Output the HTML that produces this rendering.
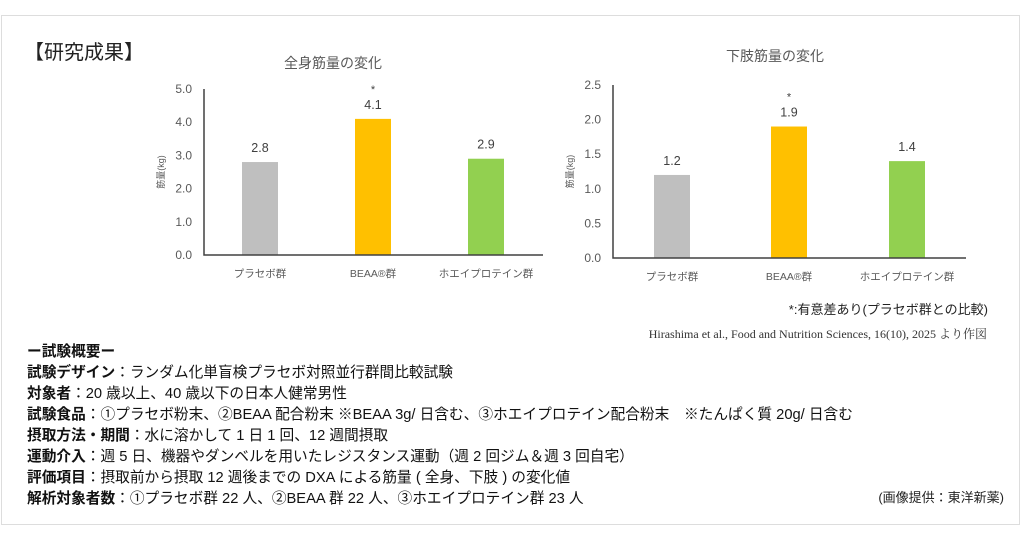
<!DOCTYPE html>
<html><head><meta charset="utf-8"><style>
body{margin:0;width:1024px;height:540px;background:#fff;overflow:hidden;font-family:"Liberation Sans","Noto Sans CJK JP",sans-serif;}
#frame{position:absolute;left:1px;top:15px;width:1019px;height:510px;border:1px solid #ddd;box-sizing:border-box;}
.t{position:absolute;white-space:nowrap;}
.ln{position:absolute;left:27px;font-size:14.7px;color:#111;white-space:nowrap;}
.ln b{font-weight:bold;}
</style></head><body>
<div id="frame"></div>
<div class="t" style="left:24px;top:36px;font-size:20px;color:#222;">【研究成果】</div>
<svg width="1024" height="540" style="position:absolute;left:0;top:0" id="svg"></svg>
<div class="t" style="right:36px;top:299px;font-size:13px;color:#222;">*:有意差あり(プラセボ群との比較)</div>
<div class="t" style="right:37px;top:325px;font-size:12px;color:#333;font-family:'Liberation Serif','Noto Serif CJK SC',serif;">Hirashima et al., Food and Nutrition Sciences, 16(10), 2025 より作図</div>
<div class="ln" style="top:340px;"><b>ー試験概要ー</b></div>
<div class="ln" style="top:361px;"><b>試験デザイン</b>：ランダム化単盲検プラセボ対照並行群間比較試験</div>
<div class="ln" style="top:382px;"><b>対象者</b>：20 歳以上、40 歳以下の日本人健常男性</div>
<div class="ln" style="top:403px;"><b>試験食品</b>：①プラセボ粉末、②BEAA 配合粉末 ※BEAA 3g/ 日含む、③ホエイプロテイン配合粉末　※たんぱく質 20g/ 日含む</div>
<div class="ln" style="top:424px;"><b>摂取方法・期間</b>：水に溶かして 1 日 1 回、12 週間摂取</div>
<div class="ln" style="top:445px;"><b>運動介入</b>：週 5 日、機器やダンベルを用いたレジスタンス運動（週 2 回ジム＆週 3 回自宅）</div>
<div class="ln" style="top:466px;"><b>評価項目</b>：摂取前から摂取 12 週後までの DXA による筋量 ( 全身、下肢 ) の変化値</div>
<div class="ln" style="top:487px;"><b>解析対象者数</b>：①プラセボ群 22 人、②BEAA 群 22 人、③ホエイプロテイン群 23 人</div>
<div class="t" style="right:20px;top:487px;font-size:13px;color:#222;">(画像提供：東洋新薬)</div>
<script>
const categories=["プラセボ群","BEAA®群","ホエイプロテイン群"];
const wholeValues=[2.8,4.1,2.9];
const legValues=[1.2,1.9,1.4];
const wholeTicks=["0.0","1.0","2.0","3.0","4.0","5.0"];
const legTicks=["0.0","0.5","1.0","1.5","2.0","2.5"];
const significant=[false,true,false];
const colors=["#bfbfbf","#ffc000","#92d050"];
const NS="http://www.w3.org/2000/svg";
const svg=document.getElementById('svg');
function mk(tag,attrs,txt){const e=document.createElementNS(NS,tag);for(const k in attrs)e.setAttribute(k,attrs[k]);if(txt!=null)e.textContent=txt;svg.appendChild(e);return e;}
function chart(cfg){
  const {x0,x1,yTop,yBot,max,ticks,values,centers,title,tx,ty,key}=cfg;
  const y=v=>yBot-(v/max)*(yBot-yTop);
  let t=mk('text',{x:tx,y:ty,'text-anchor':'middle','font-size':14,fill:'#595959'},title);
  
  ticks.forEach(s=>{const v=parseFloat(s);
    let e=mk('text',{x:x0-12,y:y(v)+4,'text-anchor':'end','font-size':12,fill:'#595959'},s);
    });
  let yl=mk('text',{x:0,y:0,'font-size':9,fill:'#595959','text-anchor':'middle',transform:`translate(${x0-40},${(yTop+yBot)/2}) rotate(-90)`},'筋量(kg)');
  
  values.forEach((v,i)=>{const cx=centers[i];
    let r=mk('rect',{x:cx-18,y:y(v),width:36,height:yBot-y(v),fill:colors[i]});
    
    let l=mk('text',{x:cx,y:y(v)-10,'text-anchor':'middle','font-size':12.5,fill:'#404040'},v.toFixed(1));
    
    if(significant[i]){let s=mk('text',{x:cx,y:y(v)-26,'text-anchor':'middle','font-size':11,fill:'#404040'},'*');
      }
    let c=mk('text',{x:cx,y:yBot+22,'text-anchor':'middle','font-size':10.5,fill:'#595959'},categories[i]);
    
  });
  let a=mk('path',{d:`M${x0},${yTop} V${yBot} H${x1}`,stroke:'#404040','stroke-width':1.5,fill:'none'});
  
}
chart({x0:204,x1:543,yTop:89,yBot:255,max:5,ticks:wholeTicks,values:wholeValues,centers:[260,373,486],title:'全身筋量の変化',tx:333,ty:68,key:'whole-body'});
chart({x0:613,x1:966,yTop:85,yBot:258,max:2.5,ticks:legTicks,values:legValues,centers:[672,789,907],title:'下肢筋量の変化',tx:775,ty:61,key:'lower-limb'});
</script>
</body></html>
